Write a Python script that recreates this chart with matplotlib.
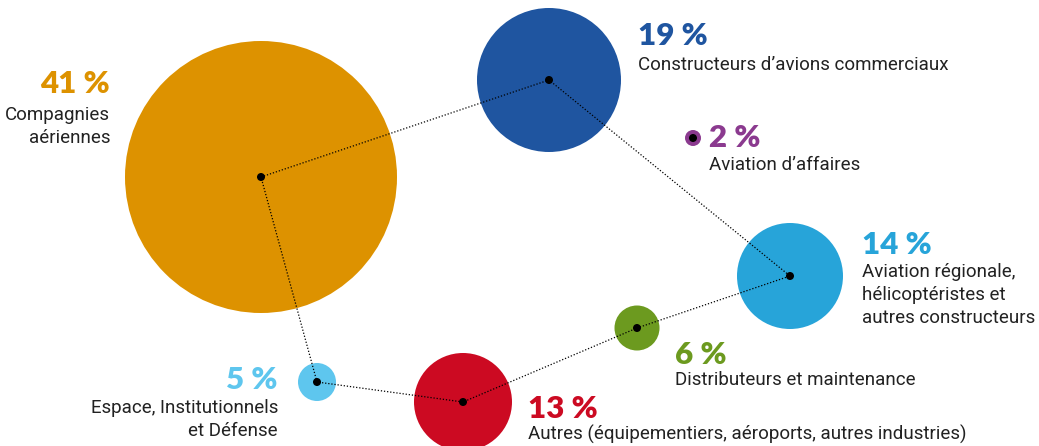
import matplotlib
matplotlib.use("Agg")
import matplotlib.pyplot as plt
from matplotlib.patches import Circle

# data
pcts = [41, 19, 2, 14, 6, 13, 5]
labels = [["Compagnies", "aériennes"],
          ["Constructeurs d\u2019avions commerciaux"],
          ["Aviation d\u2019affaires"],
          ["Aviation régionale,", "hélicoptéristes et", "autres constructeurs"],
          ["Distributeurs et maintenance"],
          ["Autres (équipementiers, aéroports, autres industries)"],
          ["Espace, Institutionnels", "et Défense"]]
colors = ["#DD9200", "#1F55A0", "#8B3A8F", "#27A4D9", "#6C9A1F", "#CC0A22", "#5EC6EE"]

# layout (pixel space)
cx = [261, 549, 693, 790, 637, 463, 317]
cy = [177, 80, 138, 276, 328, 402, 382]
radius = [136, 72, 8, 53, 22.5, 49, 19]
path = [0, 1, 3, 4, 5, 6, 0]
tx = [110, 638, 709, 862, 675, 528, 278]
ty = [93, 45, 147, 254, 364, 418, 389]
gap = [27, 25, 23, 23, 21, 22, 24]
ha = ["right", "left", "left", "left", "left", "left", "right"]

fig = plt.figure(figsize=(10.39, 4.46), dpi=100)
ax = fig.add_axes([0, 0, 1, 1])
ax.set_xlim(0, 1039)
ax.set_ylim(446, 0)
ax.set_aspect("equal")
ax.axis("off")

for i in range(len(pcts)):
    ax.add_patch(Circle((cx[i], cy[i]), radius[i], color=colors[i], lw=0, zorder=1))

ax.plot([cx[i] for i in path], [cy[i] for i in path], color="black",
        lw=0.9, ls=(0, (1, 1.5)), zorder=2)

for i in range(len(pcts)):
    ax.add_patch(Circle((cx[i], cy[i]), 4, color="black", lw=0, zorder=3))

for i in range(len(pcts)):
    ax.text(tx[i], ty[i], f"{pcts[i]} %", color=colors[i], ha=ha[i], va="baseline",
            fontsize=22.5, fontweight="heavy", family=["Lato", "DejaVu Sans"])
    for k, line in enumerate(labels[i]):
        ax.text(tx[i], ty[i] + gap[i] + 23 * k, line, color="#222222", ha=ha[i],
                va="baseline", fontsize=13.5, family=["Roboto", "DejaVu Sans"])

fig.savefig("out.png", dpi=100)
